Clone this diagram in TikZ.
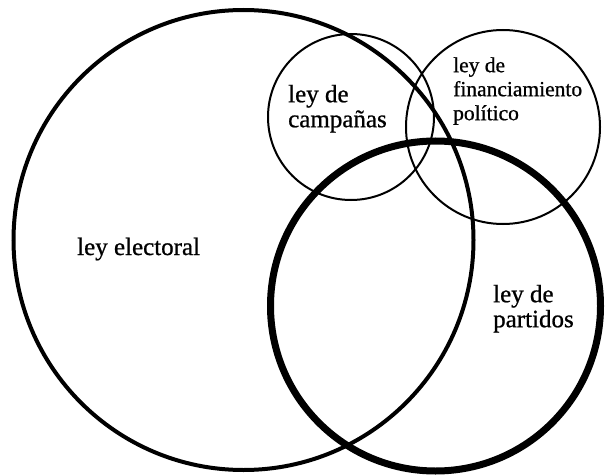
\documentclass[tikz,border=0pt]{standalone}
\usepackage{fontspec}
\setmainfont{Liberation Serif}
\newfontfamily\labelfont[FakeBold=0.8]{Liberation Serif}
\begin{document}
\begin{tikzpicture}[x=1pt, y=-1pt,
    every node/.style={inner sep=0pt, align=left, font=\labelfont\fontsize{25}{25}\selectfont},
    smalltext/.style={font=\labelfont\fontsize{21.5}{24}\selectfont}]
\useasboundingbox (0,0) rectangle (605,476);
% circles: centre x / centre y / radius / line width
\foreach \x/\y/\r/\w in {243.5/240/230/4, 351/117/83/2, 503/127/97/2, 435.5/306/165/7} {
    \draw[line width=\w pt] (\x,\y) circle (\r);
}
\node[anchor=base west] (electoral) at (77,255) {ley electoral};
\node[anchor=west] (campanas) at (288,108.7) {ley de\\campañas};
\node[anchor=west, smalltext] (financiamiento) at (453,91) {ley de\\financiamiento\\político};
\node[anchor=west] (partidos) at (493,308.7) {ley de\\partidos};
\end{tikzpicture}
\end{document}
